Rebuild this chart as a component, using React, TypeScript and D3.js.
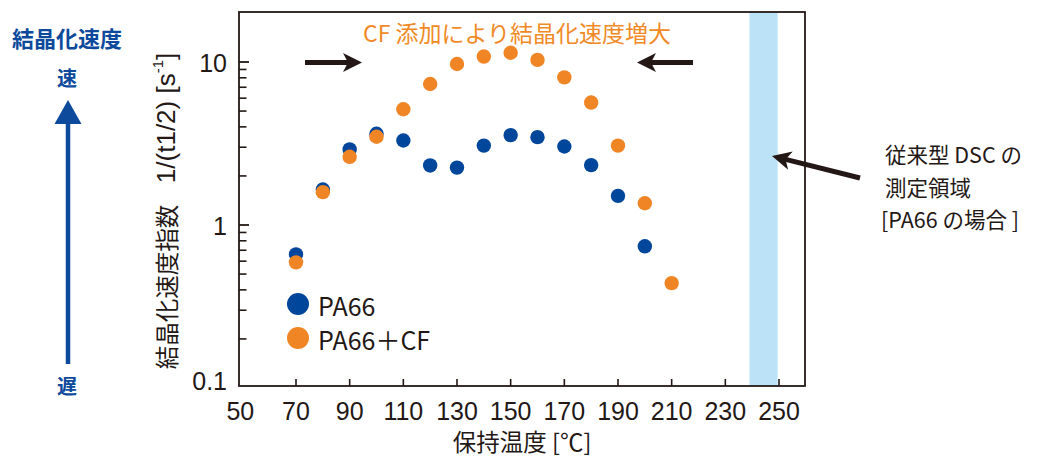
import React from "react";
import * as d3 from "d3";

// ---- data ----
const tempsPA66 = [70, 80, 90, 100, 110, 120, 130, 140, 150, 160, 170, 180, 190, 200];
const valuesPA66 = [0.66, 1.65, 2.91, 3.63, 3.3, 2.32, 2.25, 3.07, 3.56, 3.46, 3.03, 2.33, 1.51, 0.74];
const tempsCF = [70, 80, 90, 100, 110, 120, 130, 140, 150, 160, 170, 180, 190, 200, 210];
const valuesCF = [0.59, 1.59, 2.62, 3.48, 5.13, 7.33, 9.72, 10.8, 11.4, 10.3, 8.05, 5.64, 3.07, 1.36, 0.44];
const xTickValues = [70, 90, 110, 130, 150, 170, 190, 210, 230, 250];
const xLabelValues = [50, 70, 90, 110, 130, 150, 170, 190, 210, 230, 250];
const yMajorTicks = [1, 10];
const yMinorTicks = [0.2, 0.3, 0.4, 0.5, 0.6, 0.7, 0.8, 0.9, 2, 3, 4, 5, 6, 7, 8, 9];
const yLabels = [
  { v: 10, t: "10" },
  { v: 1, t: "1" },
  { v: 0.1, t: "0.1" },
];
const dscRange = [239, 249.5];
const seriesNames = ["PA66", "PA66＋CF"];

const BLUE = "#00469b";
const ORANGE = "#f08525";
const INK = "#231815";
const TEXTBLUE = "#0d4a9c";
const LATIN = "'Liberation Sans', Arial, sans-serif";
const CJK = "'Noto Sans CJK JP', 'Noto Sans', sans-serif";

const frame = { left: 239, top: 12, right: 805, bottom: 386 };

function arrowPath(x1: number, y1: number, x2: number, y2: number, L: number, W: number, notch: number) {
  const dx = x2 - x1, dy = y2 - y1;
  const len = Math.hypot(dx, dy);
  const ux = dx / len, uy = dy / len;
  const px = -uy, py = ux;
  const bx = x2 - ux * L, by = y2 - uy * L;
  const nx = x2 - ux * (L - notch), ny = y2 - uy * (L - notch);
  return `M${x2},${y2} L${bx + px * W},${by + py * W} L${nx},${ny} L${bx - px * W},${by - py * W} Z`;
}

function Arrow({ x1, y1, x2, y2, color, sw, L, W, notch }: any) {
  const dx = x2 - x1, dy = y2 - y1;
  const len = Math.hypot(dx, dy);
  const ex = x2 - (dx / len) * (L - notch - 1);
  const ey = y2 - (dy / len) * (L - notch - 1);
  return (
    <g>
      <line x1={x1} y1={y1} x2={ex} y2={ey} stroke={color} strokeWidth={sw} />
      <path d={arrowPath(x1, y1, x2, y2, L, W, notch)} fill={color} />
    </g>
  );
}

export default function App() {
  const x = d3.scaleLinear().domain([70, 250]).range([296, 779]);
  const y = d3.scaleLog().domain([0.1, 10]).range([388, 62]);

  return (
    <svg
      width={1045}
      height={457}
      style={{ position: "absolute", left: 0, top: 0, background: "#fff" }}
    >
      <rect x={0} y={0} width={1045} height={457} fill="#fff" />

      {/* DSC band */}
      <rect
        x={x(dscRange[0])}
        y={frame.top}
        width={x(dscRange[1]) - x(dscRange[0])}
        height={frame.bottom - frame.top}
        fill="#bce2f7"
      />

      {/* frame */}
      <rect
        x={frame.left}
        y={frame.top}
        width={frame.right - frame.left}
        height={frame.bottom - frame.top}
        fill="none"
        stroke={INK}
        strokeWidth={1.8}
      />

      {/* y ticks */}
      {yMajorTicks.map((v) => (
        <line key={"ym" + v} x1={frame.left} x2={frame.left + 10} y1={y(v)} y2={y(v)} stroke={INK} strokeWidth={1.8} />
      ))}
      {yMinorTicks.map((v) => (
        <line key={"yn" + v} x1={frame.left} x2={frame.left + 7.5} y1={y(v)} y2={y(v)} stroke={INK} strokeWidth={1.6} />
      ))}
      {yLabels.map((d) => (
        <text
          key={"yl" + d.t}
          x={227}
          y={d.v === 0.1 ? y(d.v) - 7 : y(d.v) + 1}
          textAnchor="end"
          dominantBaseline="central"
          fontFamily={LATIN}
          fontSize={25}
          fill={INK}
        >
          {d.t}
        </text>
      ))}

      {/* x ticks */}
      {xTickValues.map((v) => (
        <line key={"xt" + v} x1={x(v)} x2={x(v)} y1={frame.bottom} y2={frame.bottom - 7} stroke={INK} strokeWidth={1.6} />
      ))}
      {xLabelValues.map((v) => (
        <text
          key={"xl" + v}
          x={x(v) - (v === 50 ? 2 : 0)}
          y={411}
          textAnchor="middle"
          dominantBaseline="central"
          fontFamily={LATIN}
          fontSize={25}
          fill={INK}
        >
          {v}
        </text>
      ))}

      {/* axis titles */}
      <text x={522} y={441} textAnchor="middle" dominantBaseline="central" fontFamily={CJK} fontSize={23.5} fill={INK}>
        保持温度 [℃]
      </text>
      <text
        transform="translate(166,211) rotate(-90)"
        textAnchor="middle"
        dominantBaseline="central"
        fill={INK}
      >
        <tspan fontFamily={CJK} fontSize={23.5}>結晶化速度指数</tspan>
        <tspan fontFamily={LATIN} fontSize={26}>{"\u00a0\u00a0\u00a01/(t1/2) [s"}</tspan>
        <tspan fontFamily={LATIN} fontSize={15} dy={-9}>-1</tspan>
        <tspan fontFamily={LATIN} fontSize={26} dy={9}>]</tspan>
      </text>

      {/* data points */}
      {tempsPA66.map((t, i) => (
        <circle key={"b" + t} cx={x(t)} cy={y(valuesPA66[i])} r={7.2} fill={BLUE} />
      ))}
      {tempsCF.map((t, i) => (
        <circle key={"o" + t} cx={x(t)} cy={y(valuesCF[i])} r={7.2} fill={ORANGE} />
      ))}

      {/* legend */}
      <circle cx={298} cy={304} r={11} fill={BLUE} />
      <circle cx={298} cy={338} r={11} fill={ORANGE} />
      <text x={318} y={305} dominantBaseline="central" fontFamily={CJK} fontSize={25} fill={INK}>
        {seriesNames[0]}
      </text>
      <text x={318} y={339} dominantBaseline="central" fontFamily={CJK} fontSize={25} fill={INK}>
        {seriesNames[1]}
      </text>

      {/* top annotation */}
      <text x={517} y={32} textAnchor="middle" dominantBaseline="central" fontFamily={CJK} fontSize={23} fill="#f08a26">
        CF 添加により結晶化速度増大
      </text>
      <Arrow x1={305} y1={62.5} x2={362} y2={62.5} color={INK} sw={5} L={19} W={9.5} notch={5} />
      <Arrow x1={693} y1={62.5} x2={637} y2={62.5} color={INK} sw={5} L={19} W={9.5} notch={5} />

      {/* DSC annotation */}
      <Arrow x1={860} y1={178} x2={772} y2={156} color={INK} sw={5} L={19} W={9.5} notch={5} />
      <text fontFamily={CJK} fontSize={21.5} fill={INK}>
        <tspan x={885} y={153} dominantBaseline="central">従来型 DSC の</tspan>
        <tspan x={885} y={186} dominantBaseline="central">測定領域</tspan>
        <tspan x={881} y={218} dominantBaseline="central">[PA66 の場合 ]</tspan>
      </text>

      {/* left speed scale */}
      <text x={67} y={37} textAnchor="middle" dominantBaseline="central" fontFamily={CJK} fontWeight="bold" fontSize={22} fill={TEXTBLUE}>
        結晶化速度
      </text>
      <text x={67} y={77} textAnchor="middle" dominantBaseline="central" fontFamily={CJK} fontWeight="bold" fontSize={20} fill={TEXTBLUE}>
        速
      </text>
      <text x={67} y={385} textAnchor="middle" dominantBaseline="central" fontFamily={CJK} fontWeight="bold" fontSize={20} fill={TEXTBLUE}>
        遅
      </text>
      <line x1={68} y1={364} x2={68} y2={118} stroke={TEXTBLUE} strokeWidth={4.5} />
      <path d="M68,100 L54.5,124 L81.5,124 Z" fill={TEXTBLUE} />
    </svg>
  );
}
